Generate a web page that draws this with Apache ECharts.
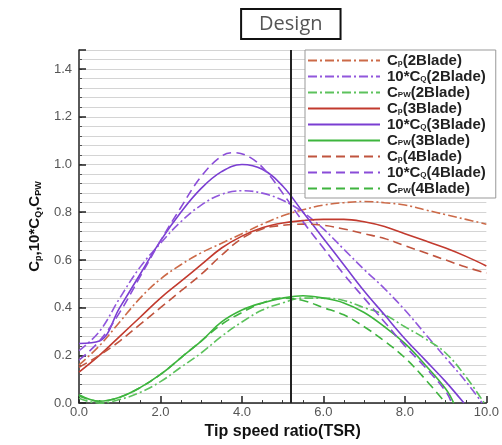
<!DOCTYPE html>
<html>
<head>
<meta charset="utf-8">
<script src="https://cdn.jsdelivr.net/npm/echarts@6/dist/echarts.min.js"></script>
<style>html,body{margin:0;padding:0;background:#fff}#c{width:502px;height:445px}</style>
</head>
<body>
<div id="c"></div>
<script>
// ---- data (x = tip speed ratio, y = coefficient) ----
var xTicks = [0, 2, 4, 6, 8, 10];
var designTSR = 5.2;

var cp2 = [[0,0.16],[0.5,0.24],[1,0.34],[1.5,0.44],[2,0.52],[2.5,0.58],[3,0.63],[3.5,0.67],[4,0.71],[4.5,0.75],[5,0.785],[5.5,0.81],[6,0.83],[6.5,0.84],[7,0.845],[7.5,0.84],[8,0.83],[8.5,0.81],[9,0.79],[9.5,0.77],[10,0.75]];
var cq2 = [[0,0.22],[0.5,0.30],[1,0.44],[1.5,0.57],[2,0.67],[2.5,0.76],[3,0.83],[3.5,0.875],[4,0.89],[4.5,0.88],[5,0.85],[5.5,0.80],[6,0.73],[6.5,0.645],[7,0.56],[7.5,0.48],[8,0.39],[8.5,0.29],[9,0.19],[9.5,0.09],[9.9,0]];
var cpw2 = [[0,0.02],[0.5,0.0],[1,0.015],[1.5,0.045],[2,0.09],[2.5,0.15],[3,0.21],[3.5,0.28],[4,0.34],[4.5,0.39],[5,0.42],[5.5,0.44],[6,0.44],[6.5,0.43],[7,0.40],[7.5,0.37],[8,0.32],[8.5,0.27],[9,0.21],[9.5,0.11],[9.95,0]];

var cp3 = [[0,0.13],[0.5,0.2],[1,0.28],[1.5,0.36],[2,0.44],[2.5,0.51],[3,0.58],[3.5,0.65],[4,0.70],[4.5,0.735],[5,0.755],[5.5,0.765],[6,0.77],[6.5,0.77],[7,0.76],[7.5,0.74],[8,0.71],[8.5,0.68],[9,0.65],[9.5,0.615],[10,0.575]];
var cq3 = [[0,0.25],[0.5,0.26],[1,0.40],[1.5,0.54],[2,0.68],[2.5,0.80],[3,0.90],[3.5,0.97],[4,1.0],[4.5,0.98],[5,0.91],[5.5,0.80],[6,0.69],[6.5,0.58],[7,0.47],[7.5,0.37],[8,0.27],[8.5,0.18],[9,0.09],[9.45,0]];
var cpw3 = [[0,0.035],[0.5,0.008],[1,0.025],[1.5,0.065],[2,0.12],[2.5,0.19],[3,0.26],[3.5,0.34],[4,0.39],[4.5,0.42],[5,0.44],[5.5,0.45],[6,0.44],[6.5,0.42],[7,0.38],[7.5,0.32],[8,0.25],[8.5,0.16],[9,0.06],[9.2,0]];

var cp4 = [[0,0.15],[0.5,0.2],[1,0.26],[1.5,0.33],[2,0.40],[2.5,0.47],[3,0.54],[3.5,0.62],[4,0.69],[4.5,0.73],[5,0.745],[5.5,0.75],[6,0.745],[6.5,0.73],[7,0.71],[7.5,0.69],[8,0.66],[8.5,0.63],[9,0.60],[9.5,0.57],[10,0.545]];
var cq4 = [[0,0.18],[0.5,0.26],[1,0.38],[1.5,0.53],[2,0.68],[2.5,0.82],[3,0.95],[3.5,1.035],[3.8,1.05],[4.2,1.03],[4.6,0.97],[5,0.88],[5.5,0.76],[6,0.65],[6.5,0.54],[7,0.44],[7.5,0.34],[8,0.24],[8.5,0.15],[9,0.05],[9.15,0]];
var cpw4 = [[0,0.03],[0.5,0.008],[1,0.025],[1.5,0.065],[2,0.12],[2.5,0.19],[3,0.26],[3.5,0.33],[4,0.38],[4.5,0.42],[5,0.44],[5.5,0.43],[6,0.40],[6.5,0.37],[7,0.32],[7.5,0.26],[8,0.19],[8.5,0.10],[9,0.0]];

var seriesNames = ['Cp(2Blade)','10*CQ(2Blade)','CPW(2Blade)','Cp(3Blade)','10*CQ(3Blade)','CPW(3Blade)','Cp(4Blade)','10*CQ(4Blade)','CPW(4Blade)'];
var legendLabels = {
  'Cp(2Blade)': 'C{s|p}(2Blade)', '10*CQ(2Blade)': '10*C{s|Q}(2Blade)', 'CPW(2Blade)': 'C{s|PW}(2Blade)',
  'Cp(3Blade)': 'C{s|p}(3Blade)', '10*CQ(3Blade)': '10*C{s|Q}(3Blade)', 'CPW(3Blade)': 'C{s|PW}(3Blade)',
  'Cp(4Blade)': 'C{s|p}(4Blade)', '10*CQ(4Blade)': '10*C{s|Q}(4Blade)', 'CPW(4Blade)': 'C{s|PW}(4Blade)'
};
var seriesData = [cp2, cq2, cpw2, cp3, cq3, cpw3, cp4, cq4, cpw4];
var colors = ['#cc6a48','#9157dc','#5cc25c','#c23a2e','#7a3ed2','#3db53d','#c0543e','#8a4cd8','#3fb43f'];
var dashDot = [9,3,2,3], dashed = [9,5];
var types = [dashDot, dashDot, dashDot, 'solid','solid','solid', dashed, dashed, dashed];

var series = seriesNames.map(function(n, i){
  return {
    name: n, type: 'line', data: seriesData[i], smooth: 0.4, symbol: 'none',
    lineStyle: {color: colors[i], width: 1.6, type: types[i]},
    itemStyle: {color: colors[i]}, z: 3
  };
});
series.push({
  name: 'design', type: 'line', data: [], symbol: 'none',
  markLine: {
    silent: true, symbol: ['none','none'], animation: false,
    lineStyle: {color: '#222', width: 2, type: 'solid'},
    label: {
      show: true, position: 'end', distance: 12, formatter: 'Design',
      fontSize: 20, lineHeight: 24, color: '#555', fontFamily: 'Open Sans, sans-serif',
      backgroundColor: '#fff', borderColor: '#111', borderWidth: 2,
      padding: [2, 17, 2, 17]
    },
    data: [{xAxis: designTSR}]
  }
});

var isMajor = function(v){ var q = v/0.2; return Math.abs(q - Math.round(q)) < 1e-6; };
var FF = 'Liberation Sans, Arial, sans-serif';

var chart = echarts.init(document.getElementById('c'), null, {renderer: 'canvas'});
chart.setOption({
  animation: false,
  backgroundColor: '#fff',
  textStyle: {fontFamily: FF},
  grid: {left: 79, right: 13, top: 50, bottom: 34},
  xAxis: {
    type: 'value', min: 0, max: 10, interval: 2,
    name: 'Tip speed ratio(TSR)', nameLocation: 'middle', nameGap: 15,
    nameTextStyle: {fontSize: 16, fontWeight: 'bold', color: '#111', fontFamily: FF},
    axisLine: {show: true, onZero: false, lineStyle: {color: '#222', width: 1.5}},
    axisTick: {show: true, inside: true, length: 7, lineStyle: {color: '#222', width: 1.5}},
    minorTick: {show: true, splitNumber: 4, length: 3, lineStyle: {color: '#333'}},
    axisLabel: {fontSize: 13, color: '#555', margin: 3, formatter: function(v){ return v.toFixed(1); }},
    splitLine: {show: false}
  },
  yAxis: [{
    type: 'value', min: 0, max: 1.48, interval: 0.04,
    name: '{n|C}{s|p}{n|,10*C}{s|Q}{n|,C}{s|PW}', nameLocation: 'middle', nameGap: 34, nameRotate: 90,
    nameTextStyle: {
      rich: {
        n: {fontSize: 15, fontWeight: 'bold', color: '#111', fontFamily: FF},
        s: {fontSize: 9, fontWeight: 'bold', color: '#111', padding: [7,0,0,0], fontFamily: FF}
      }
    },
    axisLine: {show: true, lineStyle: {color: '#222', width: 1.5}},
    axisTick: {show: true, inside: true, length: 3, lineStyle: {color: '#555'}},
    axisLabel: {fontSize: 13, color: '#555', margin: 7, showMaxLabel: false,
      formatter: function(v){ return isMajor(v) ? v.toFixed(1) : ''; }},
    splitLine: {show: true, lineStyle: {color: '#d4d4d4', width: 1}}
  }, {
    type: 'value', min: 0, max: 1.48, interval: 0.2, position: 'left',
    axisLine: {show: false},
    axisTick: {show: true, inside: true, length: 7, lineStyle: {color: '#222', width: 1.5}},
    axisLabel: {show: false},
    splitLine: {show: false}
  }],
  legend: {
    data: seriesNames, orient: 'vertical', left: 305, top: 50,
    itemWidth: 72, itemHeight: 12, itemGap: 1,
    itemStyle: {opacity: 0},
    backgroundColor: '#fff', borderColor: '#999', borderWidth: 1,
    padding: [3, 10, 2, 2],
    formatter: function(n){ return legendLabels[n]; },
    textStyle: {
      fontSize: 15, fontWeight: 'bold', color: '#222', lineHeight: 12, padding: [0,0,0,2],
      rich: {
        s: {fontSize: 8, fontWeight: 'bold', color: '#222', lineHeight: 8, padding: [5,0,0,0]}
      }
    }
  },
  series: series
});
</script>
</body>
</html>
